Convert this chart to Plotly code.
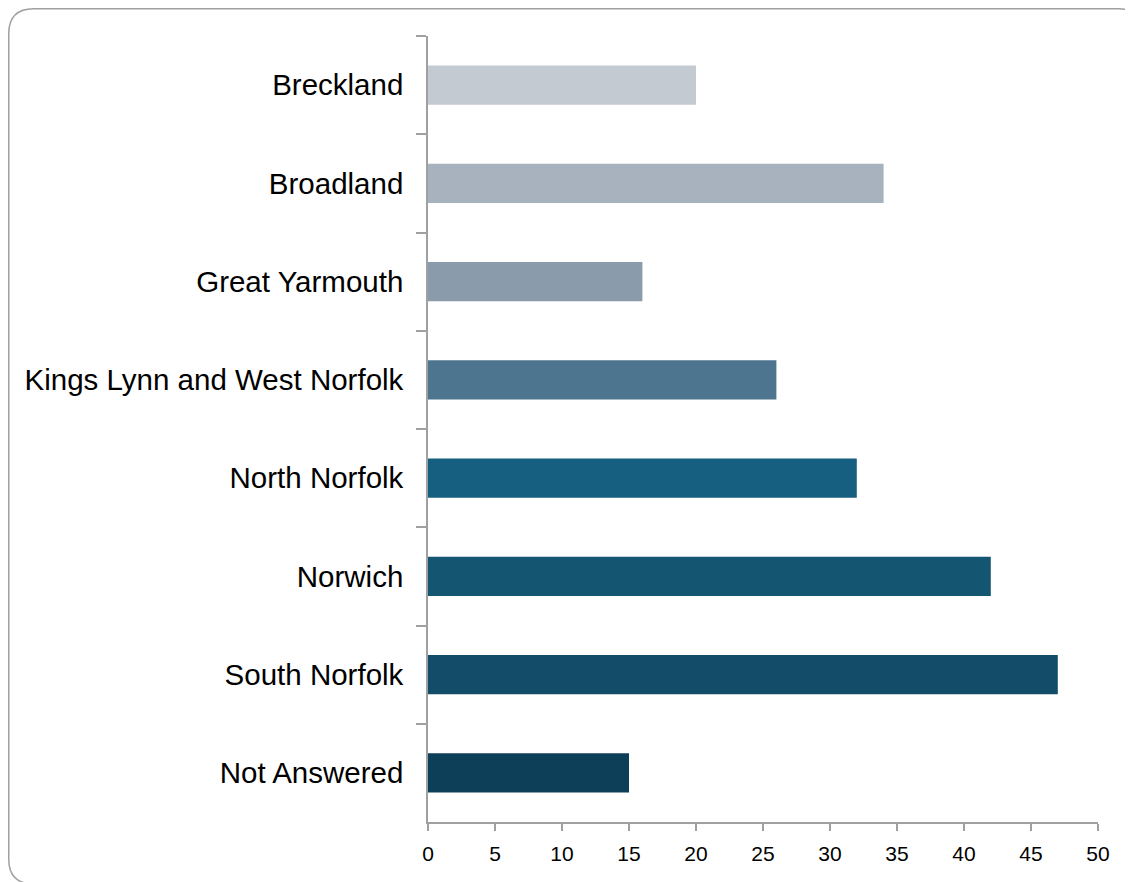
import plotly.graph_objects as go

categories = ["Breckland", "Broadland", "Great Yarmouth", "Kings Lynn and West Norfolk",
              "North Norfolk", "Norwich", "South Norfolk", "Not Answered"]
values = [20, 34, 16, 26, 32, 42, 47, 15]
colors = ["#C4CAD2", "#A7B2BE", "#8A9BAB", "#4E7590", "#175F80", "#145672", "#124C68", "#0D4058"]
x_ticks = [0, 5, 10, 15, 20, 25, 30, 35, 40, 45, 50]

# the page body adds an 8px offset, so figure coords = page coords - 8
W, H = 1133, 882
L, R, T, B = 420, 43, 28, 68
pw, ph = W - L - R, H - T - B

def px(x):
    return (x - L) / pw

def py(y):
    return (H - B - y) / ph

fig = go.Figure(go.Bar(
    x=values, y=categories, orientation="h",
    marker=dict(color=colors, line=dict(width=0)),
    hoverinfo="x+y",
))

# rounded border around the chart
x0, y0, x1, y1, r = 0.75, 0.75, 1136, 876, 25
path = (f"M {px(x0+r)},{py(y0)} L {px(x1-r)},{py(y0)} Q {px(x1)},{py(y0)} {px(x1)},{py(y0+r)} "
        f"L {px(x1)},{py(y1-r)} Q {px(x1)},{py(y1)} {px(x1-r)},{py(y1)} "
        f"L {px(x0+r)},{py(y1)} Q {px(x0)},{py(y1)} {px(x0)},{py(y1-r)} "
        f"L {px(x0)},{py(y0+r)} Q {px(x0)},{py(y0)} {px(x0+r)},{py(y0)} Z")

fig.update_layout(
    width=W, height=H,
    margin=dict(l=L, r=R, t=T, b=B),
    paper_bgcolor="white", plot_bgcolor="white",
    bargap=0.6,
    showlegend=False,
    font=dict(family="Liberation Sans, Arial, sans-serif", color="#000000"),
    shapes=[dict(type="path", path=path, xref="paper", yref="paper",
                 line=dict(color="#A0A0A0", width=1.5), layer="below")],
    xaxis=dict(range=[0, 50], tickvals=x_ticks, showgrid=False, zeroline=False,
               showline=True, linecolor="#A0A0A0", linewidth=1.5,
               ticks="outside", ticklen=7, tickcolor="#A0A0A0", tickwidth=1.5,
               ticklabelstandoff=5,
               tickfont=dict(size=21), fixedrange=True),
    yaxis=dict(autorange="reversed", showgrid=False, zeroline=False,
               showline=True, linecolor="#A0A0A0", linewidth=1.5,
               ticks="outside", ticklen=10, tickcolor="#A0A0A0", tickwidth=1.5,
               tickson="boundaries", ticklabelstandoff=17,
               tickfont=dict(size=29.5), fixedrange=True),
)

fig.write_html("out.html")
